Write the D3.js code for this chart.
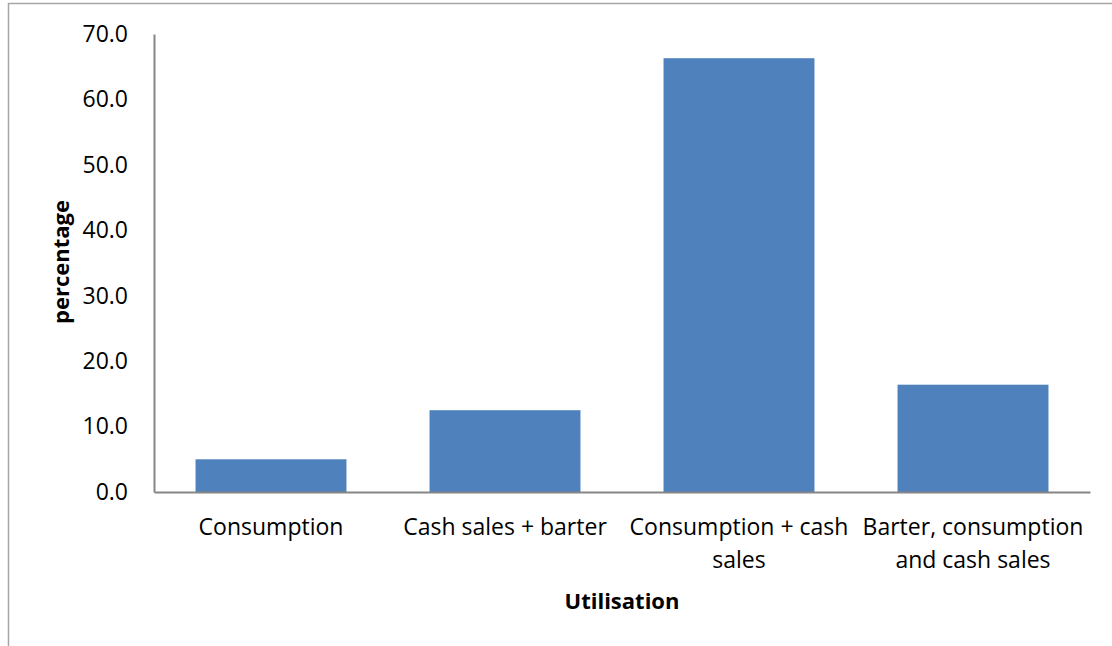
<!DOCTYPE html>
<html>
<head>
<meta charset="utf-8">
<script src="https://cdn.jsdelivr.net/npm/d3@7"></script>
<style>
  html, body { margin: 0; padding: 0; background: #fff; }
  svg { display: block; font-family: "Open Sans", sans-serif; }
</style>
</head>
<body>
<svg id="chart" width="1112" height="646"></svg>
<script>
// Utilisation categories (label lines) and their shares in percent
const categories = [
  ["Consumption"],
  ["Cash sales + barter"],
  ["Consumption + cash", "sales"],
  ["Barter, consumption", "and cash sales"]
];
const values = [5.0, 12.5, 66.3, 16.4];
const yTicks = [0, 10, 20, 30, 40, 50, 60, 70];

const svg = d3.select("#chart");
const W = 1112, H = 646;
const m = { left: 154, right: 22, top: 34, bottom: 154 };
const FONT = "'Open Sans', sans-serif";

// outer frame (left and top edges visible)
svg.append("path")
  .attr("d", `M8.5,${H} V3.5 H${W}`)
  .attr("fill", "none").attr("stroke", "#a6a6a6").attr("stroke-width", 1.5);

const x = d3.scaleBand()
  .domain(d3.range(categories.length))
  .range([m.left, W - m.right])
  .paddingInner(0.355).paddingOuter(0.1775);

const y = d3.scaleLinear().domain([0, 70]).range([H - m.bottom, m.top]);

// bars
svg.append("g").selectAll("rect")
  .data(values)
  .join("rect")
  .attr("x", (d, i) => x(i))
  .attr("width", x.bandwidth())
  .attr("y", d => y(d))
  .attr("height", d => y(0) - y(d))
  .attr("fill", "#4f81bd");

// y axis
const yAxis = svg.append("g")
  .attr("transform", `translate(${m.left},0)`)
  .call(d3.axisLeft(y).tickValues(yTicks).tickFormat(d3.format(".1f")).tickSize(0).tickPadding(26));
yAxis.select(".domain").attr("stroke", "#868686").attr("stroke-width", 2);
yAxis.selectAll("text").attr("font-size", 23).attr("fill", "#000")
  .attr("font-family", FONT);

// x axis
const xAxis = svg.append("g")
  .attr("transform", `translate(0,${y(0)})`)
  .call(d3.axisBottom(x).tickSize(0).tickFormat(""));
xAxis.select(".domain").attr("stroke", "#868686").attr("stroke-width", 2);

// category labels (wrapped)
const lab = svg.append("g").selectAll("text")
  .data(categories)
  .join("text")
  .attr("text-anchor", "middle")
  .attr("font-size", 23)
  .attr("fill", "#000");
lab.each(function (lines, i) {
  d3.select(this).selectAll("tspan")
    .data(lines)
    .join("tspan")
    .attr("x", x(i) + x.bandwidth() / 2)
    .attr("y", (d, j) => y(0) + 43 + j * 33)
    .text(d => d);
});

// axis titles
svg.append("text")
  .attr("x", 622).attr("y", 609)
  .attr("text-anchor", "middle")
  .attr("font-size", 22).attr("font-weight", "bold")
  .text("Utilisation");

svg.append("text")
  .attr("transform", "translate(69,262) rotate(-90)")
  .attr("text-anchor", "middle")
  .attr("font-size", 22).attr("font-weight", "bold")
  .text("percentage");
</script>
</body>
</html>
